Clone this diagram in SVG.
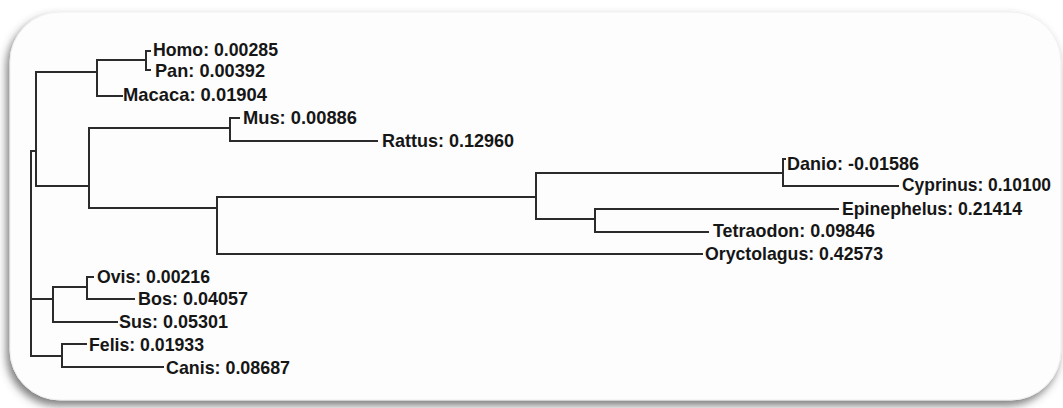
<svg xmlns="http://www.w3.org/2000/svg" width="1063" height="408" viewBox="0 0 1063 408">
<defs>
<filter id="sh" x="-5%" y="-10%" width="110%" height="125%">
<feDropShadow dx="-3" dy="5" stdDeviation="4" flood-color="#444" flood-opacity="0.7"/>
</filter>
<style>
.e{fill:none;stroke:#2b2b2b;stroke-width:2;stroke-linecap:square}
.t{font-family:"Liberation Sans",Arial,sans-serif;font-weight:bold;font-size:19px;fill:#161616}
</style>
</defs>
<rect x="0" y="0" width="1063" height="408" fill="#ffffff"/>
<g id="panel">
<rect x="10" y="12" width="1051" height="388" rx="50" ry="50" fill="#fdfdfd" stroke="#efefef" stroke-width="1" filter="url(#sh)"/>
</g>
<g id="connectors" class="e">
<path d="M36 72V186M31 151H36M31 151V356"/>
<path d="M36 72H97M97 60V96M97 60H146M146 51V70M146 51H150M146 70H150M97 96H122"/>
<path d="M36 186H89M89 128V208M89 128H230M230 118V141M230 118H239M230 141H377"/>
<path d="M89 208H217M217 197V254M217 197H536M536 173V219M536 173H783M783 159V186M783 159H785M783 186H898"/>
<path d="M536 219H595M595 209V232M595 209H838M595 232H708M217 254H702"/>
<path d="M31 299H53M53 287V322M53 287H87M87 277V299M87 277H93M87 299H134M53 322H117"/>
<path d="M31 356H62M62 344V367M62 344H86M62 367H163"/>
</g>
<g id="homo"><text class="t" x="153" y="56" textLength="125" lengthAdjust="spacingAndGlyphs">Homo: 0.00285</text></g>
<g id="pan"><text class="t" x="155" y="77" textLength="110" lengthAdjust="spacingAndGlyphs">Pan: 0.00392</text></g>
<g id="macaca"><text class="t" x="123" y="101" textLength="144" lengthAdjust="spacingAndGlyphs">Macaca: 0.01904</text></g>
<g id="mus"><text class="t" x="243" y="124" textLength="114" lengthAdjust="spacingAndGlyphs">Mus: 0.00886</text></g>
<g id="rattus"><text class="t" x="382" y="147" textLength="132" lengthAdjust="spacingAndGlyphs">Rattus: 0.12960</text></g>
<g id="danio"><text class="t" x="787" y="170" textLength="132" lengthAdjust="spacingAndGlyphs">Danio: -0.01586</text></g>
<g id="cyprinus"><text class="t" x="902" y="191" textLength="149" lengthAdjust="spacingAndGlyphs">Cyprinus: 0.10100</text></g>
<g id="epinephelus"><text class="t" x="842" y="215" textLength="180" lengthAdjust="spacingAndGlyphs">Epinephelus: 0.21414</text></g>
<g id="tetraodon"><text class="t" x="713" y="237" textLength="162" lengthAdjust="spacingAndGlyphs">Tetraodon: 0.09846</text></g>
<g id="oryctolagus"><text class="t" x="705" y="260" textLength="178" lengthAdjust="spacingAndGlyphs">Oryctolagus: 0.42573</text></g>
<g id="ovis"><text class="t" x="97" y="283" textLength="113" lengthAdjust="spacingAndGlyphs">Ovis: 0.00216</text></g>
<g id="bos"><text class="t" x="138" y="305" textLength="110" lengthAdjust="spacingAndGlyphs">Bos: 0.04057</text></g>
<g id="sus"><text class="t" x="119" y="328" textLength="109" lengthAdjust="spacingAndGlyphs">Sus: 0.05301</text></g>
<g id="felis"><text class="t" x="89" y="351" textLength="115" lengthAdjust="spacingAndGlyphs">Felis: 0.01933</text></g>
<g id="canis"><text class="t" x="166" y="374" textLength="124" lengthAdjust="spacingAndGlyphs">Canis: 0.08687</text></g>
</svg>
